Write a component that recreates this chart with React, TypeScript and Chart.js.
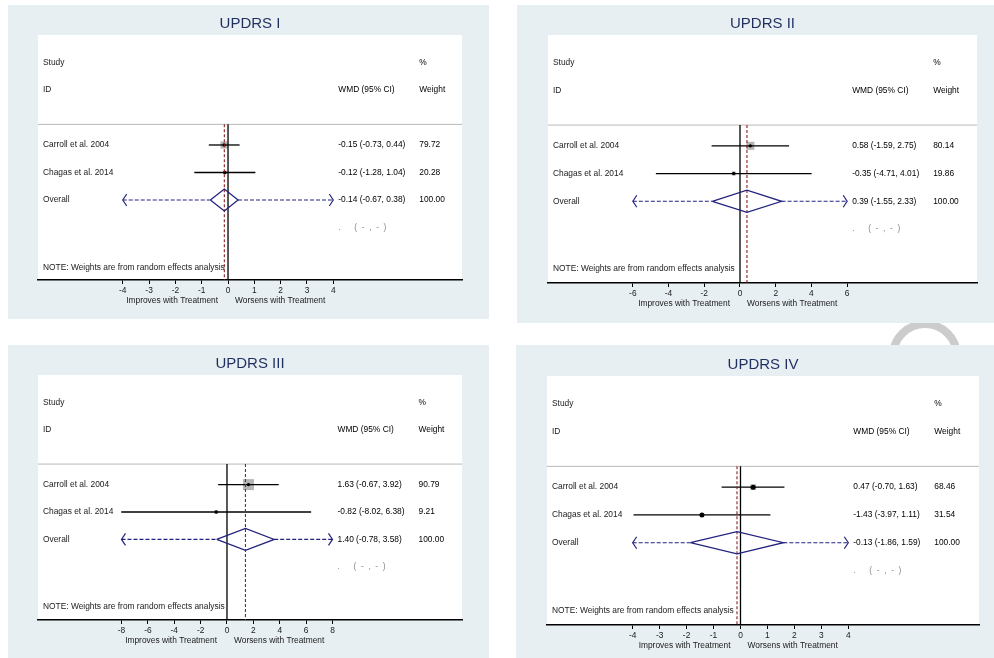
import React, { useEffect, useRef } from "react";
import { Chart, registerables } from "chart.js";
Chart.register(...registerables);

// ---------- data ----------
const STUDIES = ["Carroll et al. 2004", "Chagas et al. 2014"];

const P1_TITLE = "UPDRS I";
const P1_EST = [-0.15, -0.12];
const P1_LO = [-0.73, -1.28];
const P1_HI = [0.44, 1.04];
const P1_WEIGHT = [79.72, 20.28];
const P1_OVERALL = [-0.14, -0.67, 0.38];
const P1_TICKS = [-4, -3, -2, -1, 0, 1, 2, 3, 4];

const P2_TITLE = "UPDRS II";
const P2_EST = [0.58, -0.35];
const P2_LO = [-1.59, -4.71];
const P2_HI = [2.75, 4.01];
const P2_WEIGHT = [80.14, 19.86];
const P2_OVERALL = [0.39, -1.55, 2.33];
const P2_TICKS = [-6, -4, -2, 0, 2, 4, 6];

const P3_TITLE = "UPDRS III";
const P3_EST = [1.63, -0.82];
const P3_LO = [-0.67, -8.02];
const P3_HI = [3.92, 6.38];
const P3_WEIGHT = [90.79, 9.21];
const P3_OVERALL = [1.4, -0.78, 3.58];
const P3_TICKS = [-8, -6, -4, -2, 0, 2, 4, 6, 8];

const P4_TITLE = "UPDRS IV";
const P4_EST = [0.47, -1.43];
const P4_LO = [-0.7, -3.97];
const P4_HI = [1.63, 1.11];
const P4_WEIGHT = [68.46, 31.54];
const P4_OVERALL = [-0.13, -1.86, 1.59];
const P4_TICKS = [-4, -3, -2, -1, 0, 1, 2, 3, 4];

// ---------- layout / style ----------
const FONT = '"Liberation Sans", Arial, sans-serif';
const NAVY = "#23237f";
const TITLE_COLOR = "#1f2f5f";
const BG = "#e8eff2";

const LAYOUTS = [
  { left: 8, top: 5, width: 481, height: 314, plot: { l: 38, t: 35, r: 462, b: 280 }, xMin: -7.22, xMax: 8.89, yMax: 8.91, boxK: 0.8, dotR: 1.7 },
  { left: 517, top: 5, width: 477, height: 318, plot: { l: 548, t: 35, r: 977, b: 283 }, xMin: -10.75, xMax: 13.27, yMax: 8.95, boxK: 0.9, dotR: 1.7 },
  { left: 8, top: 345, width: 481, height: 313, plot: { l: 38, t: 375, r: 462, b: 620 }, xMin: -14.33, xMax: 17.82, yMax: 8.94, boxK: 1.15, dotR: 1.7 },
  { left: 516, top: 345, width: 478, height: 313, plot: { l: 547, t: 376, r: 979, b: 625 }, xMin: -7.18, xMax: 8.85, yMax: 8.96, boxK: 0.7, dotR: 2.5 },
];

type PanelProps = {
  title: string;
  est: number[];
  lo: number[];
  hi: number[];
  weight: number[];
  overall: number[];
  ticks: number[];
  layout: any;
};

const f2 = (v: number) => v.toFixed(2);

function ForestPanel({ title, est, lo, hi, weight, overall, ticks, layout }: PanelProps) {
  const ref = useRef<HTMLCanvasElement>(null);
  useEffect(() => {
    const L = layout;
    const AXIS_H = 30;
    const padLeft = L.plot.l - L.left;
    const padTop = L.plot.t - L.top;
    const padRight = L.left + L.width - L.plot.r;
    const padBottom = L.top + L.height - L.plot.b - AXIS_H;
    const tMin = ticks[0];
    const tMax = ticks[ticks.length - 1];
    const SEP = 3.25;
    const rows = est.map((_, i) => 4 + i);
    const oRow = 4 + est.length;
    const line = (pts: any[], color: string, width: number, dash: number[] = []) => ({
      data: pts,
      showLine: true,
      borderColor: color,
      borderWidth: width,
      borderDash: dash,
      pointRadius: 0,
      fill: false,
    });
    // pushed bottom-most first; reversed later because Chart.js paints dataset 0 last
    const datasets: any[] = [];
    datasets.push(line([{ x: L.xMin, y: SEP }, { x: L.xMax, y: SEP }], "#b8b8b8", 1));
    datasets.push({
      data: est.map((e, i) => ({ x: e, y: rows[i] })),
      showLine: false,
      pointStyle: "rect",
      pointRadius: weight.map((w) => (L.boxK * Math.sqrt(w)) / Math.SQRT2),
      pointBackgroundColor: "#b5b5b5",
      pointBorderWidth: 0,
    });
    est.forEach((_, i) => datasets.push(line([{ x: lo[i], y: rows[i] }, { x: hi[i], y: rows[i] }], "#000", 1.3)));
    datasets.push({
      data: est.map((e, i) => ({ x: e, y: rows[i] })),
      showLine: false,
      pointStyle: "circle",
      pointRadius: L.dotR,
      pointBackgroundColor: "#000",
      pointBorderWidth: 0,
    });
    datasets.push(line([{ x: tMin, y: oRow }, { x: overall[1], y: oRow }], NAVY, 1.2, [4, 2]));
    datasets.push(line([{ x: overall[2], y: oRow }, { x: tMax, y: oRow }], NAVY, 1.2, [4, 2]));
    datasets.push(line([{ x: 0, y: SEP }, { x: 0, y: L.yMax }], "#000", 1.3));
    datasets.push(line([{ x: overall[0], y: SEP }, { x: overall[0], y: L.yMax }], "#8e1f1f", 1.1, [3, 2]));
    datasets.push(
      line(
        [
          { x: overall[1], y: oRow },
          { x: overall[0], y: oRow - 0.4 },
          { x: overall[2], y: oRow },
          { x: overall[0], y: oRow + 0.4 },
          { x: overall[1], y: oRow },
        ],
        NAVY,
        1.3
      )
    );
    datasets.reverse();

    const textPlugin = {
      id: "forestText",
      beforeDraw(chart: any) {
        const { ctx, chartArea: a } = chart;
        ctx.save();
        ctx.fillStyle = "#fff";
        ctx.fillRect(a.left, a.top, a.right - a.left, a.bottom - a.top);
        ctx.restore();
      },
      afterDraw(chart: any) {
        const { ctx, chartArea: a } = chart;
        const xs = chart.scales.x;
        const ys = chart.scales.y;
        const yr = (r: number) => ys.getPixelForValue(r);
        ctx.save();
        ctx.textBaseline = "middle";
        ctx.font = `15px ${FONT}`;
        ctx.fillStyle = TITLE_COLOR;
        ctx.textAlign = "center";
        ctx.fillText(title, (a.left + a.right) / 2, a.top - 11);
        const labelX = a.left + 5;
        const wmdX = xs.getPixelForValue(tMax) + 5;
        const wtX = wmdX + 81;
        ctx.textAlign = "left";
        ctx.font = `8.4px ${FONT}`;
        ctx.fillStyle = "#1a1a1a";
        ctx.fillText("Study", labelX, yr(1));
        ctx.fillText("ID", labelX, yr(2));
        ctx.fillStyle = "#000";
        ctx.fillText("%", wtX, yr(1));
        ctx.fillText("WMD (95% CI)", wmdX, yr(2));
        ctx.fillText("Weight", wtX, yr(2));
        est.forEach((e, i) => {
          ctx.fillStyle = "#1a1a1a";
          ctx.fillText(STUDIES[i], labelX, yr(rows[i]));
          ctx.fillStyle = "#000";
          ctx.fillText(`${f2(e)} (${f2(lo[i])}, ${f2(hi[i])})`, wmdX, yr(rows[i]));
          ctx.fillText(f2(weight[i]), wtX, yr(rows[i]));
        });
        ctx.fillStyle = "#1a1a1a";
        ctx.fillText("Overall", labelX, yr(oRow));
        ctx.fillStyle = "#000";
        ctx.fillText(`${f2(overall[0])} (${f2(overall[1])}, ${f2(overall[2])})`, wmdX, yr(oRow));
        ctx.fillText(f2(weight.reduce((s, w) => s + w, 0)), wtX, yr(oRow));
        ctx.fillStyle = "#8a8a8a";
        ctx.fillText(".", wmdX, yr(oRow + 1));
        ctx.fillText("(  -  ,  -  )", wmdX + 16, yr(oRow + 1));
        ctx.fillStyle = "#1a1a1a";
        ctx.fillText("NOTE: Weights are from random effects analysis", labelX, yr(8.45));
        const x0 = xs.getPixelForValue(0);
        ctx.textAlign = "right";
        ctx.fillText("Improves with Treatment", x0 - 10, a.bottom + 21);
        ctx.textAlign = "left";
        ctx.fillText("Worsens with Treatment", x0 + 7, a.bottom + 21);
        const ya = yr(oRow);
        const xl = xs.getPixelForValue(tMin);
        const xr = xs.getPixelForValue(tMax);
        ctx.strokeStyle = NAVY;
        ctx.lineWidth = 1.2;
        ctx.beginPath();
        ctx.moveTo(xl + 4, ya - 6);
        ctx.lineTo(xl, ya);
        ctx.lineTo(xl + 4, ya + 6);
        ctx.moveTo(xr - 4, ya - 6);
        ctx.lineTo(xr, ya);
        ctx.lineTo(xr - 4, ya + 6);
        ctx.stroke();
        ctx.restore();
      },
    };

    const chart = new Chart(ref.current as HTMLCanvasElement, {
      type: "scatter",
      data: { datasets },
      options: {
        responsive: false,
        animation: false,
        events: [],
        layout: { padding: { left: padLeft, right: padRight, top: padTop, bottom: padBottom } },
        plugins: { legend: { display: false }, tooltip: { enabled: false }, title: { display: false } },
        scales: {
          x: {
            type: "linear",
            position: "bottom",
            min: L.xMin,
            max: L.xMax,
            bounds: "data",
            afterBuildTicks: (scale: any) => {
              scale.ticks = ticks.map((v) => ({ value: v }));
            },
            afterFit: (scale: any) => {
              scale.height = AXIS_H;
            },
            ticks: {
              autoSkip: false,
              maxRotation: 0,
              padding: 2,
              color: "#1a1a1a",
              font: { family: FONT, size: 8.4 },
              callback: (v: any) => String(v),
            },
            grid: { drawOnChartArea: false, drawTicks: true, tickLength: 4, color: "#000", lineWidth: 1 },
            border: { display: true, color: "#000", width: 1.4 },
          },
          y: { type: "linear", display: false, min: 0, max: L.yMax, reverse: true },
        },
      } as any,
      plugins: [textPlugin],
    });
    return () => chart.destroy();
  }, []);
  return (
    <div
      style={{
        position: "absolute",
        left: layout.left,
        top: layout.top,
        width: layout.width,
        height: layout.height,
        background: BG,
        zIndex: 1,
      }}
    >
      <canvas ref={ref} width={layout.width} height={layout.height} style={{ display: "block" }} />
    </div>
  );
}

export default function App() {
  return (
    <div style={{ position: "absolute", left: 0, top: 0, width: 994, height: 658, background: "#fff", overflow: "hidden" }}>
      <div
        style={{
          position: "absolute",
          left: 889,
          top: 320,
          width: 72,
          height: 72,
          borderRadius: "50%",
          border: "8.5px solid #cccccc",
          boxSizing: "border-box",
          zIndex: 0,
        }}
      />
      <ForestPanel title={P1_TITLE} est={P1_EST} lo={P1_LO} hi={P1_HI} weight={P1_WEIGHT} overall={P1_OVERALL} ticks={P1_TICKS} layout={LAYOUTS[0]} />
      <ForestPanel title={P2_TITLE} est={P2_EST} lo={P2_LO} hi={P2_HI} weight={P2_WEIGHT} overall={P2_OVERALL} ticks={P2_TICKS} layout={LAYOUTS[1]} />
      <ForestPanel title={P3_TITLE} est={P3_EST} lo={P3_LO} hi={P3_HI} weight={P3_WEIGHT} overall={P3_OVERALL} ticks={P3_TICKS} layout={LAYOUTS[2]} />
      <ForestPanel title={P4_TITLE} est={P4_EST} lo={P4_LO} hi={P4_HI} weight={P4_WEIGHT} overall={P4_OVERALL} ticks={P4_TICKS} layout={LAYOUTS[3]} />
    </div>
  );
}
